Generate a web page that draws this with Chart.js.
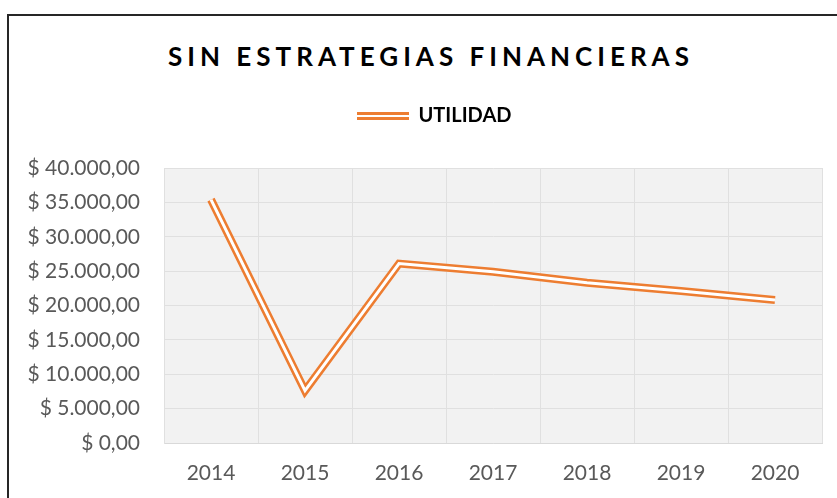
<!DOCTYPE html>
<html lang="es">
<head>
<meta charset="utf-8">
<title>Sin estrategias financieras</title>
<script src="https://cdn.jsdelivr.net/npm/chart.js@4.4.1/dist/chart.umd.min.js"></script>
<style>
  html, body { margin: 0; padding: 0; background: #fff; }
  body { width: 837px; height: 498px; overflow: hidden; position: relative; }
  #marco { position: absolute; left: 7px; top: 14px; width: 860px; height: 520px; border: 2px solid #262626; }
  #titulo { position: absolute; left: 0; top: 39px; width: 862px; text-align: center; font: bold 26px Lato, sans-serif; letter-spacing: 5px; color: #000; line-height: 34px; }
  #grafico { position: absolute; left: 0; top: 0; }
</style>
</head>
<body>
<div id="marco"></div>
<div id="titulo">SIN ESTRATEGIAS FINANCIERAS</div>
<canvas id="grafico" width="837" height="498"></canvas>
<script>
const anios = ['2014', '2015', '2016', '2017', '2018', '2019', '2020']
const utilidad = [35400, 7600, 26100, 24900, 23300, 22100, 20800]
const ejeMin = 0
const ejeMax = 40000
const ejePaso = 5000

const naranja = '#ED7D31'
const fondoArea = '#F2F2F2'
const colorTexto = '#595959'

// formato moneda: $ 40.000,00
const formatoPesos = (valor) => {
  const [entero, dec] = Number(valor).toFixed(2).split('.')
  return '$ ' + entero.replace(/\B(?=(\d{3})+(?!\d))/g, '.') + ',' + dec
}

// muestra de la leyenda: linea doble
const muestra = document.createElement('canvas')
muestra.width = 52
muestra.height = 8
const mctx = muestra.getContext('2d')
mctx.fillStyle = naranja
mctx.fillRect(0, 0, 52, 3)
mctx.fillRect(0, 5, 52, 3)

const fondoPlugin = {
  id: 'fondoArea',
  beforeDraw (chart) {
    const { ctx, chartArea } = chart
    ctx.save()
    ctx.fillStyle = fondoArea
    ctx.fillRect(chartArea.left, chartArea.top, chartArea.right - chartArea.left, chartArea.bottom - chartArea.top)
    ctx.restore()
  }
}

// la leyenda va mas arriba y algo a la derecha del area calculada
const leyendaPlugin = {
  id: 'posLeyenda',
  beforeDraw (chart) {
    const lg = chart.legend
    lg.top -= 32
    lg.bottom -= 32
    lg.left = 46
  }
}

new Chart(document.getElementById('grafico'), {
  type: 'line',
  data: {
    labels: anios,
    datasets: [
      {
        label: 'UTILIDAD',
        data: utilidad,
        borderColor: naranja,
        borderWidth: 8,
        borderCapStyle: 'butt',
        borderJoinStyle: 'miter',
        pointRadius: 0,
        pointStyle: muestra,
        tension: 0,
        order: 1
      },
      {
        label: 'UTILIDAD',
        data: utilidad,
        borderColor: '#ffffff',
        borderWidth: 3,
        borderCapStyle: 'butt',
        borderJoinStyle: 'miter',
        pointRadius: 0,
        tension: 0,
        order: 0
      }
    ]
  },
  options: {
    responsive: false,
    animation: false,
    layout: { padding: { left: 0, right: 15, top: 128, bottom: 0 } },
    plugins: {
      legend: {
        display: true,
        position: 'top',
        labels: {
          usePointStyle: true,
          pointStyleWidth: 52,
          padding: 10,
          color: '#000',
          font: { family: 'Lato', size: 20, weight: 'bold' },
          filter: (item) => item.datasetIndex === 0
        }
      },
      title: { display: false },
      tooltip: { enabled: false }
    },
    scales: {
      x: {
        offset: true,
        grid: { offset: true, color: '#e0e0e0', lineWidth: 1, drawTicks: false },
        border: { color: '#d9d9d9' },
        ticks: { color: colorTexto, padding: 18, font: { family: 'Lato', size: 21 } },
        afterFit: (scale) => { scale.height = 55 }
      },
      y: {
        min: ejeMin,
        max: ejeMax,
        grid: { color: '#e0e0e0', lineWidth: 1, drawTicks: false },
        border: { color: '#e0e0e0' },
        ticks: {
          stepSize: ejePaso,
          color: colorTexto,
          padding: 24,
          font: { family: 'Lato', size: 21 },
          callback: (v) => formatoPesos(v)
        },
        afterFit: (scale) => { scale.width = 164 }
      }
    }
  },
  plugins: [fondoPlugin, leyendaPlugin]
})
</script>
</body>
</html>
